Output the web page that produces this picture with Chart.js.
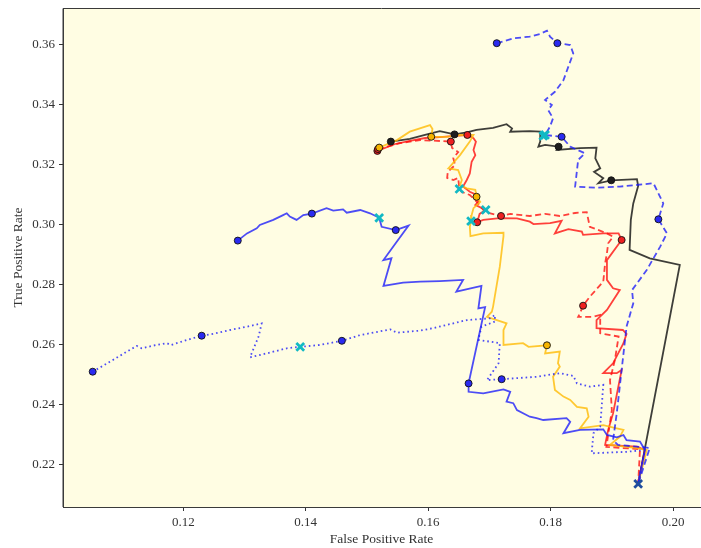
<!DOCTYPE html>
<html>
<head>
<meta charset="utf-8">
<script src="https://cdn.jsdelivr.net/npm/chart.js@4"></script>
<style>
  html, body { margin: 0; padding: 0; background: #ffffff; }
  #roc { display: block; }
</style>
</head>
<body>
<canvas id="roc" width="701" height="548"></canvas>
<script>
// shared end point of every run
const endFpr = [0.1943];
const endTpr = [0.2137];

// blue, solid
const blueSolidFpr = [0.1289, 0.1304, 0.1320, 0.1325, 0.1347, 0.1363, 0.1369, 0.1374, 0.1380, 0.1385, 0.1396, 0.1410, 0.1434, 0.1445, 0.1461, 0.1467, 0.1489, 0.1505, 0.1520, 0.1524, 0.1547, 0.1568, 0.1543, 0.1527, 0.1540, 0.1527, 0.1559, 0.1587, 0.1619, 0.1657, 0.1646, 0.1687, 0.1682, 0.1693, 0.1666, 0.1666, 0.1690, 0.1723, 0.1734, 0.1728, 0.1739, 0.1745, 0.1766, 0.1777, 0.1788, 0.1826, 0.1832, 0.1821, 0.1848, 0.1886, 0.1892, 0.1908, 0.1919, 0.1924, 0.1946, 0.1954, 0.1943];
const blueSolidTpr = [0.2948, 0.2972, 0.2989, 0.3000, 0.3017, 0.3033, 0.3039, 0.3028, 0.3022, 0.3017, 0.3033, 0.3038, 0.3056, 0.3048, 0.3052, 0.3041, 0.3050, 0.3039, 0.3024, 0.2994, 0.2983, 0.2998, 0.2928, 0.2883, 0.2889, 0.2797, 0.2808, 0.2811, 0.2813, 0.2817, 0.2778, 0.2797, 0.2722, 0.2726, 0.2472, 0.2444, 0.2439, 0.2452, 0.2444, 0.2411, 0.2406, 0.2383, 0.2361, 0.2356, 0.2350, 0.2356, 0.2344, 0.2306, 0.2317, 0.2319, 0.2300, 0.2292, 0.2300, 0.2283, 0.2278, 0.2250, 0.2137];
const blueSolidDotFpr = [0.1289, 0.1410, 0.1547, 0.1666];
const blueSolidDotTpr = [0.2948, 0.3038, 0.2983, 0.2472];

// blue, dashed
const blueDashFpr = [0.1712, 0.1739, 0.1766, 0.1783, 0.1794, 0.1799, 0.1811, 0.1832, 0.1837, 0.1829, 0.1821, 0.1807, 0.1791, 0.1802, 0.1796, 0.1804, 0.1799, 0.1791, 0.1818, 0.1832, 0.1856, 0.1845, 0.1840, 0.1875, 0.1913, 0.1968, 0.1984, 0.1976, 0.1990, 0.1979, 0.1957, 0.1933, 0.1935, 0.1924, 0.1916, 0.1908, 0.1902, 0.1910, 0.1962, 0.1943];
const blueDashTpr = [0.3606, 0.3622, 0.3628, 0.3637, 0.3648, 0.3628, 0.3606, 0.3600, 0.3572, 0.3528, 0.3483, 0.3444, 0.3417, 0.3400, 0.3383, 0.3356, 0.3328, 0.3300, 0.3294, 0.3261, 0.3239, 0.3217, 0.3128, 0.3124, 0.3128, 0.3139, 0.3072, 0.3019, 0.2972, 0.2928, 0.2850, 0.2783, 0.2739, 0.2661, 0.2517, 0.2372, 0.2283, 0.2267, 0.2257, 0.2137];
const blueDashDotFpr = [0.1712, 0.1811, 0.1818, 0.1976];
const blueDashDotTpr = [0.3606, 0.3606, 0.3294, 0.3019];

// blue, dotted
const blueDotFpr = [0.1052, 0.1080, 0.1108, 0.1124, 0.1132, 0.1151, 0.1173, 0.1180, 0.1206, 0.1230, 0.1249, 0.1276, 0.1304, 0.1328, 0.1323, 0.1309, 0.1336, 0.1369, 0.1391, 0.1423, 0.1459, 0.1489, 0.1538, 0.1549, 0.1587, 0.1608, 0.1663, 0.1701, 0.1709, 0.1709, 0.1687, 0.1682, 0.1717, 0.1715, 0.1696, 0.1720, 0.1777, 0.1815, 0.1837, 0.1843, 0.1864, 0.1886, 0.1881, 0.1870, 0.1867, 0.1924, 0.1954, 0.1943];
const blueDotTpr = [0.2511, 0.2544, 0.2578, 0.2597, 0.2589, 0.2598, 0.2606, 0.2600, 0.2617, 0.2631, 0.2637, 0.2650, 0.2661, 0.2672, 0.2628, 0.2559, 0.2572, 0.2589, 0.2594, 0.2600, 0.2614, 0.2633, 0.2652, 0.2641, 0.2648, 0.2656, 0.2683, 0.2689, 0.2700, 0.2678, 0.2661, 0.2617, 0.2606, 0.2539, 0.2483, 0.2486, 0.2494, 0.2506, 0.2497, 0.2472, 0.2461, 0.2467, 0.2328, 0.2306, 0.2239, 0.2244, 0.2250, 0.2137];
const blueDotDotFpr = [0.1052, 0.1230, 0.1459, 0.1720];
const blueDotDotTpr = [0.2511, 0.2631, 0.2614, 0.2486];

// red, solid
const redSolidFpr = [0.1517, 0.1546, 0.1570, 0.1595, 0.1619, 0.1644, 0.1664, 0.1674, 0.1678, 0.1674, 0.1677, 0.1671, 0.1668, 0.1663, 0.1657, 0.1668, 0.1679, 0.1682, 0.1677, 0.1694, 0.1684, 0.1680, 0.1690, 0.1717, 0.1745, 0.1766, 0.1772, 0.1799, 0.1818, 0.1807, 0.1829, 0.1851, 0.1853, 0.1886, 0.1911, 0.1916, 0.1892, 0.1892, 0.1902, 0.1913, 0.1892, 0.1875, 0.1875, 0.1918, 0.1924, 0.1919, 0.1902, 0.1886, 0.1908, 0.1916, 0.1902, 0.1894, 0.1889, 0.1941, 0.1954, 0.1943];
const redSolidTpr = [0.3247, 0.3270, 0.3280, 0.3290, 0.3293, 0.3297, 0.3300, 0.3289, 0.3278, 0.3250, 0.3233, 0.3211, 0.3172, 0.3150, 0.3128, 0.3111, 0.3100, 0.3078, 0.3067, 0.3050, 0.3037, 0.3009, 0.3017, 0.3023, 0.3022, 0.3011, 0.3003, 0.3006, 0.3014, 0.2972, 0.2986, 0.2978, 0.2967, 0.2972, 0.2972, 0.2950, 0.2883, 0.2817, 0.2789, 0.2783, 0.2717, 0.2683, 0.2656, 0.2650, 0.2637, 0.2606, 0.2539, 0.2506, 0.2506, 0.2517, 0.2372, 0.2317, 0.2267, 0.2261, 0.2250, 0.2137];
const redSolidDotFpr = [0.1517, 0.1664, 0.1680, 0.1916];
const redSolidDotTpr = [0.3247, 0.3300, 0.3009, 0.2950];

// red, dashed
const redDashFpr = [0.1518, 0.1554, 0.1587, 0.1619, 0.1637, 0.1639, 0.1649, 0.1641, 0.1644, 0.1632, 0.1631, 0.1641, 0.1649, 0.1651, 0.1655, 0.1668, 0.1677, 0.1685, 0.1693, 0.1719, 0.1734, 0.1766, 0.1791, 0.1815, 0.1840, 0.1859, 0.1864, 0.1892, 0.1902, 0.1894, 0.1892, 0.1889, 0.1886, 0.1864, 0.1853, 0.1848, 0.1845, 0.1870, 0.1881, 0.1881, 0.1911, 0.1905, 0.1897, 0.1900, 0.1894, 0.1891, 0.1946, 0.1943];
const redDashTpr = [0.3253, 0.3273, 0.3283, 0.3280, 0.3278, 0.3257, 0.3243, 0.3223, 0.3200, 0.3177, 0.3157, 0.3150, 0.3157, 0.3120, 0.3110, 0.3100, 0.3083, 0.3063, 0.3043, 0.3030, 0.3037, 0.3030, 0.3037, 0.3030, 0.3040, 0.3043, 0.2994, 0.2972, 0.2961, 0.2939, 0.2906, 0.2872, 0.2811, 0.2761, 0.2731, 0.2706, 0.2694, 0.2694, 0.2700, 0.2639, 0.2628, 0.2550, 0.2483, 0.2383, 0.2300, 0.2260, 0.2253, 0.2137];
const redDashDotFpr = [0.1518, 0.1637, 0.1719, 0.1853];
const redDashDotTpr = [0.3253, 0.3278, 0.3030, 0.2731];

// orange, solid
const orangeFpr = [0.1520, 0.1549, 0.1570, 0.1603, 0.1607, 0.1605, 0.1630, 0.1652, 0.1674, 0.1668, 0.1652, 0.1633, 0.1649, 0.1655, 0.1652, 0.1663, 0.1677, 0.1679, 0.1685, 0.1674, 0.1671, 0.1670, 0.1668, 0.1669, 0.1690, 0.1723, 0.1723, 0.1717, 0.1706, 0.1704, 0.1696, 0.1728, 0.1723, 0.1723, 0.1755, 0.1764, 0.1794, 0.1791, 0.1815, 0.1812, 0.1815, 0.1804, 0.1807, 0.1821, 0.1832, 0.1843, 0.1859, 0.1862, 0.1848, 0.1886, 0.1908, 0.1919, 0.1913, 0.1897, 0.1941, 0.1957, 0.1943];
const orangeTpr = [0.3258, 0.3283, 0.3311, 0.3333, 0.3320, 0.3294, 0.3294, 0.3300, 0.3300, 0.3278, 0.3233, 0.3189, 0.3183, 0.3150, 0.3133, 0.3122, 0.3117, 0.3094, 0.3077, 0.3056, 0.3033, 0.3013, 0.2994, 0.2963, 0.2972, 0.2974, 0.2963, 0.2861, 0.2728, 0.2711, 0.2694, 0.2672, 0.2650, 0.2600, 0.2606, 0.2594, 0.2599, 0.2572, 0.2578, 0.2539, 0.2528, 0.2494, 0.2450, 0.2428, 0.2417, 0.2394, 0.2389, 0.2361, 0.2322, 0.2333, 0.2322, 0.2317, 0.2294, 0.2267, 0.2256, 0.2250, 0.2137];
const orangeDotFpr = [0.1520, 0.1605, 0.1679, 0.1794];
const orangeDotTpr = [0.3258, 0.3294, 0.3094, 0.2599];

// black, solid
const blackFpr = [0.1539, 0.1570, 0.1598, 0.1619, 0.1643, 0.1663, 0.1679, 0.1706, 0.1728, 0.1737, 0.1734, 0.1766, 0.1783, 0.1783, 0.1780, 0.1791, 0.1813, 0.1810, 0.1848, 0.1875, 0.1873, 0.1881, 0.1871, 0.1886, 0.1878, 0.1899, 0.1941, 0.1943, 0.1935, 0.1931, 0.1929, 0.1962, 0.2011, 0.1943];
const blackTpr = [0.3278, 0.3287, 0.3302, 0.3313, 0.3302, 0.3309, 0.3317, 0.3324, 0.3336, 0.3322, 0.3311, 0.3313, 0.3311, 0.3278, 0.3261, 0.3267, 0.3261, 0.3250, 0.3256, 0.3258, 0.3222, 0.3189, 0.3177, 0.3156, 0.3139, 0.3149, 0.3153, 0.3130, 0.3072, 0.3017, 0.2917, 0.2889, 0.2867, 0.2137];
const blackDotFpr = [0.1539, 0.1643, 0.1813, 0.1899];
const blackDotTpr = [0.3278, 0.3302, 0.3261, 0.3149];

// cyan crosses (best operating points)
const bestFpr = [0.1520, 0.1391, 0.1791, 0.1788, 0.1651, 0.1694, 0.1670];
const bestTpr = [0.3024, 0.2594, 0.3300, 0.3297, 0.3120, 0.3050, 0.3013];

const xTicks = [0.12, 0.14, 0.16, 0.18, 0.20];
const yTicks = [0.22, 0.24, 0.26, 0.28, 0.30, 0.32, 0.34, 0.36];

const BLUE = "rgba(25, 25, 250, 0.78)";
const RED = "rgba(255, 10, 10, 0.78)";
const ORANGE = "rgba(255, 188, 10, 0.82)";
const BLACK = "rgba(20, 20, 20, 0.82)";

function pts(xs, ys) {
  return xs.map((x, i) => ({ x: x, y: ys[i] }));
}

function lineSet(xs, ys, color, dash) {
  return {
    data: pts(xs, ys),
    showLine: true,
    borderColor: color,
    borderWidth: 1.8,
    borderDash: dash,
    borderCapStyle: "butt",
    pointRadius: 0,
    tension: 0,
    order: 5,
  };
}

function dotSet(xs, ys, fill) {
  return {
    data: pts(xs, ys),
    showLine: false,
    pointRadius: 3.5,
    pointBackgroundColor: fill,
    pointBorderColor: "#111111",
    pointBorderWidth: 0.9,
    order: 2,
  };
}

const serif = "'Liberation Serif', 'DejaVu Serif', serif";

// the scales ask for room for their edge labels; the reference plot box ignores that
function noEdgePad(scale) {
  scale.paddingLeft = 0;
  scale.paddingRight = 0;
  scale.paddingTop = 0;
  scale.paddingBottom = 0;
}

const plotBg = {
  id: "plotBg",
  beforeDraw(chart) {
    const a = chart.chartArea;
    const ctx = chart.ctx;
    ctx.save();
    ctx.fillStyle = "#fffde3";
    ctx.fillRect(a.left, a.top, a.right - a.left, a.bottom - a.top);
    ctx.restore();
  },
  afterDraw(chart) {
    const a = chart.chartArea;
    const ctx = chart.ctx;
    ctx.save();
    ctx.strokeStyle = "#3a3a3a";
    ctx.lineWidth = 1;
    ctx.beginPath();
    ctx.moveTo(a.left, a.bottom);
    ctx.lineTo(a.left, a.top + 0.5);
    ctx.lineTo(a.right, a.top + 0.5);
    ctx.stroke();
    ctx.restore();
  },
};

new Chart(document.getElementById("roc"), {
  type: "scatter",
  plugins: [plotBg],
  data: {
    datasets: [
      lineSet(blueDotFpr, blueDotTpr, BLUE, [1.6, 3]),
      lineSet(blueSolidFpr, blueSolidTpr, BLUE, []),
      lineSet(blueDashFpr, blueDashTpr, BLUE, [6, 3.5]),
      lineSet(orangeFpr, orangeTpr, ORANGE, []),
      lineSet(redDashFpr, redDashTpr, RED, [6, 3.5]),
      lineSet(redSolidFpr, redSolidTpr, RED, []),
      lineSet(blackFpr, blackTpr, BLACK, []),
      dotSet(blueDotDotFpr, blueDotDotTpr, "#2a2af0"),
      dotSet(blueSolidDotFpr, blueSolidDotTpr, "#2a2af0"),
      dotSet(blueDashDotFpr, blueDashDotTpr, "#2a2af0"),
      dotSet(orangeDotFpr, orangeDotTpr, "#f7b500"),
      dotSet(redDashDotFpr, redDashDotTpr, "#ee2020"),
      dotSet(redSolidDotFpr, redSolidDotTpr, "#ee2020"),
      dotSet(blackDotFpr, blackDotTpr, "#1e1e1e"),
      {
        data: pts(bestFpr, bestTpr),
        showLine: false,
        pointStyle: "crossRot",
        pointRadius: 5.5,
        pointBorderWidth: 2.8,
        pointBorderColor: "#12b9c4",
        order: 1,
      },
      {
        data: pts(endFpr, endTpr),
        showLine: false,
        pointStyle: "crossRot",
        pointRadius: 5.5,
        pointBorderWidth: 2.8,
        pointBorderColor: "#1f4d9e",
        order: 0,
      },
    ],
  },
  options: {
    responsive: false,
    animation: false,
    layout: { autoPadding: false, padding: { left: 0, right: 1, top: 8, bottom: 0 } },
    plugins: {
      legend: { display: false },
      tooltip: { enabled: false },
    },
    scales: {
      x: {
        type: "linear",
        min: 0.10035,
        max: 0.2044,
        afterBuildTicks: (scale) => { scale.ticks = xTicks.map((v) => ({ value: v })); },
        afterFit: (scale) => { scale.height = 41; noEdgePad(scale); },
        grid: { display: true, drawOnChartArea: false, tickLength: 4, color: "#333333" },
        border: { display: true, color: "#3a3a3a", width: 1 },
        ticks: {
          color: "#333333",
          padding: 4,
          maxRotation: 0,
          font: { family: serif, size: 13 },
          callback: (v) => v.toFixed(2),
        },
        title: {
          display: true,
          text: "False Positive Rate",
          color: "#333333",
          padding: { top: 3, bottom: 0 },
          font: { family: serif, size: 13.5 },
        },
      },
      y: {
        type: "linear",
        min: 0.2060,
        max: 0.37233,
        afterBuildTicks: (scale) => { scale.ticks = yTicks.map((v) => ({ value: v })); },
        afterFit: (scale) => { scale.width = 63; noEdgePad(scale); },
        grid: { display: true, drawOnChartArea: false, tickLength: 4, color: "#333333" },
        border: { display: true, color: "#3a3a3a", width: 1 },
        ticks: {
          color: "#333333",
          padding: 4,
          font: { family: serif, size: 13 },
          callback: (v) => v.toFixed(2),
        },
        title: {
          display: true,
          text: "True Positive Rate",
          color: "#333333",
          padding: { top: 10, bottom: 0 },
          font: { family: serif, size: 13.5 },
        },
      },
    },
  },
});
</script>
</body>
</html>
